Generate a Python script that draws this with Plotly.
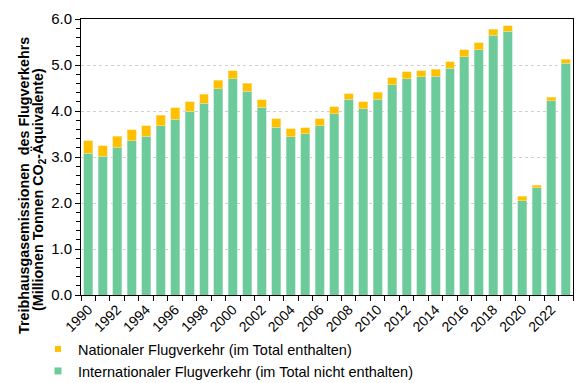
import plotly.graph_objects as go

years = list(range(1990, 2024))
total = [3.35, 3.25, 3.45, 3.59, 3.68, 3.91, 4.07, 4.20, 4.36, 4.67, 4.88, 4.60, 4.25, 3.83, 3.61, 3.64, 3.83,
         4.09, 4.38, 4.20, 4.41, 4.72, 4.85, 4.88, 4.91, 5.07, 5.33, 5.48, 5.78, 5.85, 2.15, 2.39, 4.30, 5.12]
international = [3.08, 3.02, 3.21, 3.35, 3.45, 3.68, 3.82, 3.99, 4.17, 4.48, 4.70, 4.43, 4.08, 3.65, 3.44, 3.51, 3.68,
                 3.94, 4.26, 4.05, 4.26, 4.57, 4.70, 4.74, 4.76, 4.93, 5.18, 5.33, 5.65, 5.73, 2.05, 2.33, 4.22, 5.04]
national = [round(t - i, 2) for t, i in zip(total, international)]

name_nat = "Nationaler Flugverkehr (im Total enthalten)"
name_int = "Internationaler Flugverkehr (im Total nicht enthalten)"
label_years = list(range(1990, 2024, 2))
title_line1 = "<b>Treibhausgasemissionen  des Flugverkehrs</b>"
title_line2 = "<b>(Millionen Tonnen CO<sub>2</sub>-Äquivalente)</b>"

GREEN = "#6DCB9B"
YELLOW = "#FFC000"

fig = go.Figure()
fig.add_trace(go.Bar(x=years, y=international, name=name_int, showlegend=False,
                     marker=dict(color=GREEN, line=dict(color="#B5E5CC", width=0.6))))
fig.add_trace(go.Bar(x=years, y=national, name=name_nat, showlegend=False,
                     marker=dict(color=YELLOW, line=dict(color="#FFE08A", width=0.6))))
# legend entries (small square keys like the reference)
fig.add_trace(go.Scatter(x=[None], y=[None], mode="markers", name=name_nat, legend="legend",
                         marker=dict(symbol="square", size=6, color=YELLOW)))
fig.add_trace(go.Scatter(x=[None], y=[None], mode="markers", name=name_int, legend="legend2",
                         marker=dict(symbol="square", size=7, color=GREEN)))

font = "Liberation Sans, Arial, sans-serif"
# page body has an 8px margin; work in page pixels and convert
OFF = 8
W, H = 588 - OFF, 383 - OFF
PL, PR, PT, PB = 81, 573, 19, 295  # plot area in page pixels
L, T = PL - OFF, PT - OFF
R, B = W - (PR - OFF), H - (PB - OFF)
pw, ph = PR - PL, PB - PT

def px_x(p):
    return (p - PL) / pw

def px_y(p):
    return (PB - p) / ph

def cont_y(p):
    return 1 - (p - OFF) / H

leg_common = dict(orientation="v", xref="paper", x=px_x(38), xanchor="left",
                  yref="container", yanchor="middle",
                  font=dict(size=14.5, color="#000000", family=font),
                  itemwidth=30, bgcolor="rgba(0,0,0,0)", borderwidth=0)

fig.update_layout(
    barmode="stack",
    bargap=0.38,
    width=W, height=H,
    margin=dict(l=L, r=R, t=T, b=B, autoexpand=False),
    plot_bgcolor="white", paper_bgcolor="white",
    font=dict(family=font, size=12, color="#000000"),
    showlegend=True,
    legend=dict(**leg_common, y=cont_y(349)),
    legend2=dict(**leg_common, y=cont_y(371)),
)
fig.update_xaxes(
    range=[1989.5, 2023.5], automargin=False,
    tickmode="array", tickvals=label_years, ticktext=[str(y) for y in label_years],
    tickangle=-45, ticks="", showgrid=False,
    showline=True, linecolor="#000000", linewidth=1, mirror=True,
    tickfont=dict(size=14, color="#000000"),
    minor=dict(tickmode="linear", tick0=1989.5, dtick=1, ticks="outside", ticklen=5,
               tickcolor="#000000", showgrid=False),
)
fig.update_yaxes(
    range=[0, 6], dtick=1, tickformat=".1f", automargin=False,
    ticks="outside", ticklen=5, tickcolor="#000000",
    showline=True, linecolor="#000000", linewidth=1, mirror=True,
    showgrid=True, gridcolor="#CFCFCF", griddash="dot", gridwidth=1,
    zeroline=False,
    tickfont=dict(size=15, color="#000000"),
    minor=dict(dtick=0.2, ticks="outside", ticklen=4, tickcolor="#000000", showgrid=False),
)
fig.add_annotation(text=title_line1, textangle=-90, xref="paper", yref="paper",
                   x=px_x(14), y=px_y(186), showarrow=False,
                   font=dict(size=14.3, color="#000000", family=font))
fig.add_annotation(text=title_line2, textangle=-90, xref="paper", yref="paper",
                   x=px_x(28), y=px_y(190), showarrow=False,
                   font=dict(size=14.3, color="#000000", family=font))

fig.write_html("out.html")
